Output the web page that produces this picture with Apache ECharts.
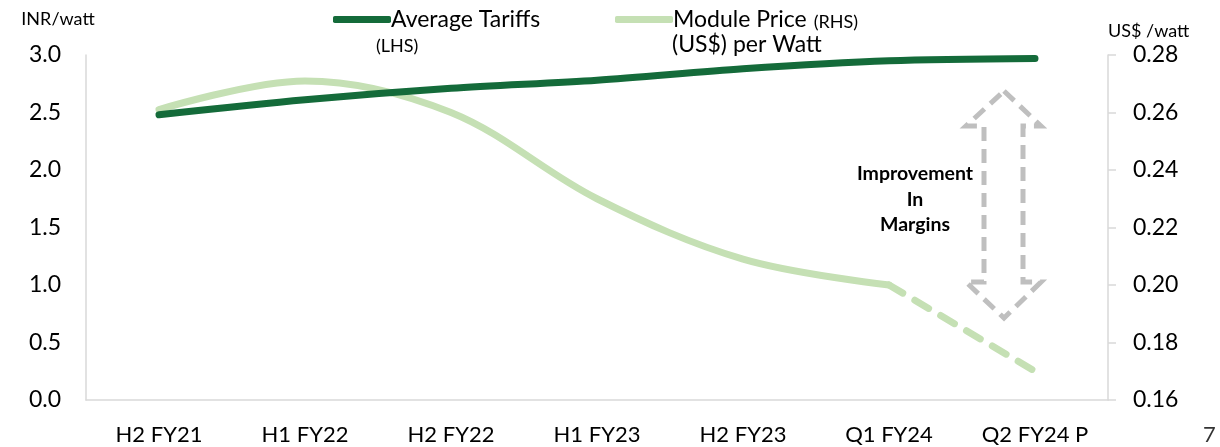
<!DOCTYPE html>
<html><head><meta charset="utf-8">
<script src="https://cdn.jsdelivr.net/npm/echarts@6/dist/echarts.min.js"></script>
<style>html,body{margin:0;padding:0;background:#fff;}#c{width:1220px;height:447px;}</style>
</head><body><div id="c"></div>
<script>
const categories = ['H2 FY21','H1 FY22','H2 FY22','H1 FY23','H2 FY23','Q1 FY24','Q2 FY24 P'];
const avgTariffs = [2.48, 2.61, 2.71, 2.78, 2.88, 2.95, 2.97];
const modulePriceActual = [0.261, 0.271, 0.260, 0.230, 0.209, 0.200, null];
const modulePriceProjected = [null, null, null, null, null, 0.200, 0.170];
const leftTicks = {min: 0, max: 3, interval: 0.5};
const rightTicks = {min: 0.16, max: 0.28, interval: 0.02};

const FONT = 'Lato';
const dark = '#146b3a', light = '#c5e0b4', axisGray = '#d9d9d9', arrowGray = '#bfbfbf';
const chart = echarts.init(document.getElementById('c'));

// arrow outline polygon
const aX = 1004, aTop = 91, aBot = 318, hb1 = 126, hb2 = 282, sL = 984, sR = 1023, hL = 966, hR = 1041;
const arrowPts = [[aX,aTop],[hR,hb1],[sR,hb1],[sR,hb2],[hR,hb2],[aX,aBot],[hL,hb2],[sL,hb2],[sL,hb1],[hL,hb1]];

chart.setOption({
  animation: false,
  textStyle: {fontFamily: FONT},
  grid: {left: 86, right: 112, top: 55, bottom: 47, containLabel: false},
  legend: [
    {left: 328, top: 3, itemWidth: 58, itemHeight: 7, icon: 'roundRect', itemGap: 0,
     data: [{name: 'Average Tariffs'}],
     textStyle: {fontSize: 23, color: '#000', fontFamily: FONT, padding: [0,0,0,-5]}},
    {left: 610, top: 3, itemWidth: 58, itemHeight: 7, icon: 'roundRect',
     data: [{name: 'Module Price'}],
     formatter: () => '{a|Module Price} {b|(RHS)}',
     textStyle: {color: '#000', fontFamily: FONT, padding: [0,0,0,-5],
       rich: {a: {fontSize: 23, fontFamily: FONT, color: '#000'}, b: {fontSize: 18, fontFamily: FONT, color: '#000', padding: [5,0,0,4]}}}}
  ],
  xAxis: {
    type: 'category', data: categories, boundaryGap: true,
    axisLine: {lineStyle: {color: axisGray, width: 1.5}},
    axisTick: {show: false},
    axisLabel: {fontSize: 22, color: '#000', margin: 24, fontFamily: FONT}
  },
  yAxis: [
    {type: 'value', min: leftTicks.min, max: leftTicks.max, interval: leftTicks.interval,
     name: 'INR/watt', nameGap: 27, nameTextStyle: {fontSize: 18, color: '#000', align: 'center', padding: [0,0,0,-56], fontFamily: FONT},
     axisLine: {show: true, lineStyle: {color: axisGray, width: 1.5}}, axisTick: {show: false},
     splitLine: {show: false},
     axisLabel: {fontSize: 23, color: '#000', margin: 25, formatter: v => v.toFixed(1), fontFamily: FONT}},
    {type: 'value', min: rightTicks.min, max: rightTicks.max, interval: rightTicks.interval, position: 'right',
     name: 'US$ /watt', nameGap: 15, nameTextStyle: {fontSize: 18, color: '#000', align: 'left', padding: [0,0,0,0], fontFamily: FONT},
     axisLine: {show: true, lineStyle: {color: axisGray, width: 1.5}},
     axisTick: {show: true, length: 8, lineStyle: {color: axisGray, width: 1.5}},
     splitLine: {show: false},
     axisLabel: {fontSize: 23, color: '#000', margin: 25, formatter: v => v.toFixed(2), fontFamily: FONT}}
  ],
  series: [
    {name: 'Module Price', type: 'line', yAxisIndex: 1, data: modulePriceActual, smooth: 0.35,
     showSymbol: false, lineStyle: {color: light, width: 7, cap: 'round'}, itemStyle: {color: light}, z: 2},
    {name: 'Module Price (projected)', type: 'line', yAxisIndex: 1, data: modulePriceProjected,
     showSymbol: false, lineStyle: {color: light, width: 7, type: [16, 14], cap: 'round'}, itemStyle: {color: light}, z: 2},
    {name: 'Average Tariffs', type: 'line', yAxisIndex: 0, data: avgTariffs, smooth: 0.3,
     showSymbol: false, lineStyle: {color: dark, width: 7, cap: 'round'}, itemStyle: {color: dark}, z: 3}
  ],
  graphic: [
    {type: 'text', left: 376, top: 37, style: {text: '(LHS)', fontSize: 18, fill: '#000', fontFamily: FONT}},
    {type: 'text', left: 672, top: 33, style: {text: '(US$) per Watt', fontSize: 23, fill: '#000', fontFamily: FONT}},
    {type: 'text', x: 915, y: 161, style: {text: 'Improvement\nIn\nMargins', fontSize: 19.5, fontWeight: 'bold', lineHeight: 25.5, align: 'center', fill: '#000', fontFamily: FONT}},
    {type: 'polygon', shape: {points: arrowPts}, style: {fill: 'none', stroke: arrowGray, lineWidth: 5, lineDash: [14, 8]}},
    {type: 'text', left: 1203, top: 424, style: {text: '7', fontSize: 22, fill: '#333', fontFamily: FONT}}
  ]
});
</script></body></html>
